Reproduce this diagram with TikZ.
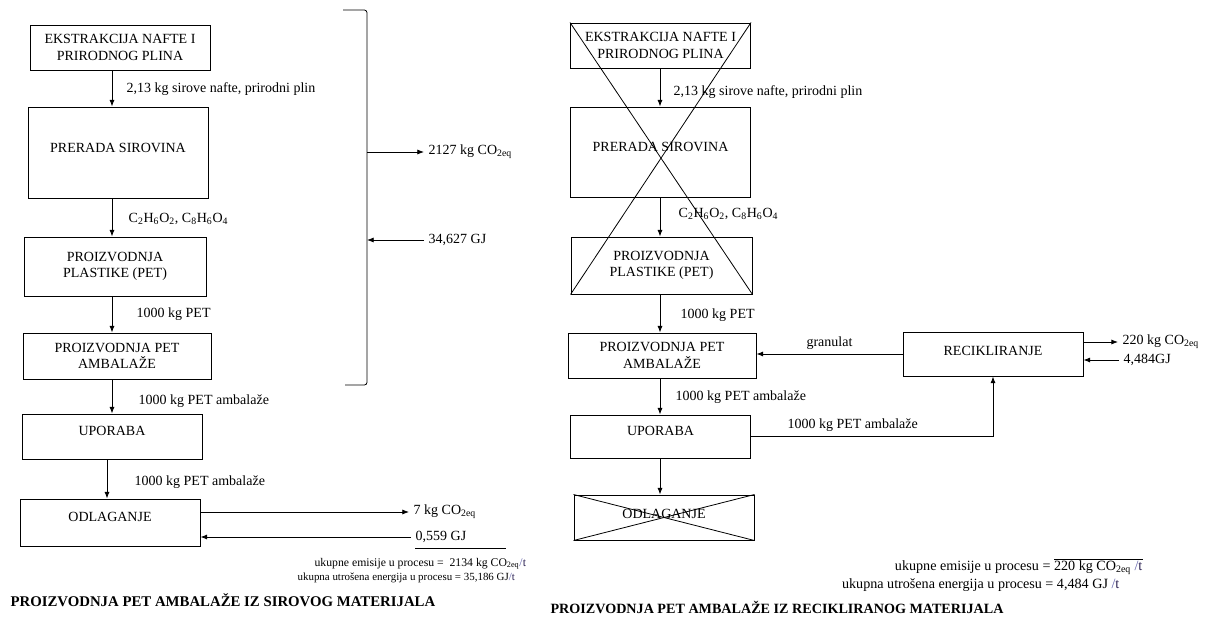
\documentclass[tikz,border=0pt]{standalone}
\usepackage{fontspec}
\setmainfont{Liberation Serif}
\usepackage{xcolor}
\usetikzlibrary{arrows.meta}
\definecolor{slashcol}{RGB}{95,95,170}
\definecolor{tcol}{RGB}{40,30,80}
\newcommand{\coeq}{CO\textsubscript{2eq}}
\newcommand{\pert}{{\color{slashcol}/}{\color{tcol}t}}
\newcommand{\chemlab}{C\textsubscript{2}H\textsubscript{6}O\textsubscript{2}, C\textsubscript{8}H\textsubscript{6}O\textsubscript{4}}

\begin{document}
\begin{tikzpicture}[x=0.75pt,y=-0.75pt,
    lab/.style={anchor=west,font=\fontsize{10.5}{12.5}\selectfont},
    sumtxt/.style={anchor=west,inner sep=1pt},
    titletxt/.style={anchor=west,inner sep=1pt,font=\fontsize{10.7}{12.5}\selectfont\bfseries}]
\useasboundingbox (0,0) rectangle (1209,621);
\coordinate (colL) at (112,0);
\coordinate (colLb) at (107,0);
\coordinate (colR) at (660,0);
\coordinate (brace) at (367,0);
\begin{scope}[every node/.style={draw,line width=0.75pt,align=center,
    font=\fontsize{10.5}{12.5}\selectfont,minimum width=135pt,minimum height=33.75pt,inner sep=2pt}]
% \begin{scope}[every node/.style={draw,align=center}]
    \node (ekstrL) at (120,47.5) {EKSTRAKCIJA NAFTE I\\PRIRODNOG PLINA};
    \node[minimum height=68.25pt,text depth=7pt] (preradaL) at (118,152.5) {PRERADA SIROVINA};
    \node[minimum width=136.5pt,minimum height=44.25pt] (plastL) at (115,266.5) {PROIZVODNJA\\PLASTIKE (PET)};
    \node[minimum width=141pt,minimum height=34.5pt] (ambL) at (117,356) {PROIZVODNJA PET\\AMBALAŽE};
    \node[text depth=8pt] (uporL) at (112,436.5) {UPORABA};
    \node[minimum height=35.25pt,text depth=8pt] (odlL) at (110,522.5) {ODLAGANJE};
    \node (ekstrR) at (660.5,45.5) {EKSTRAKCIJA NAFTE I\\PRIRODNOG PLINA};
    \node[minimum height=67.5pt,text depth=7pt] (preradaR) at (660.5,152) {PRERADA SIROVINA};
    \node[minimum width=135.75pt,minimum height=42.75pt] (plastR) at (661.5,265.5) {PROIZVODNJA\\PLASTIKE (PET)};
    \node[minimum width=141pt] (ambR) at (662,355.5) {PROIZVODNJA PET\\AMBALAŽE};
    \node[minimum height=32.25pt,text depth=8pt] (uporR) at (660.5,436.5) {UPORABA};
    \node[text depth=6pt] (odlR) at (664,517.5) {ODLAGANJE};
    \node[minimum height=33pt,text depth=5pt] (recik) at (993,354) {RECIKLIRANJE};
\end{scope}
\begin{scope}
    \node[lab] (qL1) at (122,89) {2,13 kg sirove nafte, prirodni plin};
    \node[lab] (qL2) at (124,219) {\chemlab};
    \node[lab] (qL3) at (132,314) {1000 kg PET};
    \node[lab] (qL4) at (134,401) {1000 kg PET ambalaže};
    \node[lab] (qL5) at (130,482) {1000 kg PET ambalaže};
    \node[lab] (co2L) at (424,152) {2127 kg \coeq};
    \node[lab] (gjL) at (424,240) {34,627 GJ};
    \node[lab] (co2odl) at (409,512) {7 kg \coeq};
    \node[lab] (gjodl) at (411,537) {0,559 GJ};
    \node[sumtxt,font=\fontsize{8.8}{10}\selectfont] (sumL1) at (313,564) {ukupne emisije u procesu = \ 2134 kg \coeq\pert};
    \node[sumtxt,font=\fontsize{8.2}{10}\selectfont] (sumL2) at (296,578) {ukupna utrošena energija u procesu = 35,186 GJ\pert};
    \node[titletxt,font=\fontsize{11.1}{13}\selectfont\bfseries] (titleL) at (9,600) {PROIZVODNJA PET AMBALAŽE IZ SIROVOG MATERIJALA};
    \node[lab] (qR1) at (669,92) {2,13 kg sirove nafte, prirodni plin};
    \node[lab] (qR2) at (674,214) {\chemlab};
    \node[lab] (qR3) at (676,315) {1000 kg PET};
    \node[lab] (qR4) at (671,397) {1000 kg PET ambalaže};
    \node[lab] (co2R) at (1118,342) {220 kg \coeq};
    \node[lab] (gjR) at (1119,360) {4,484GJ};
    \node[sumtxt,anchor=east,font=\fontsize{10.6}{12}\selectfont] (sumR1) at (1144,568) {ukupne emisije u procesu = 220 kg \coeq\ \pert};
    \node[sumtxt,anchor=east,font=\fontsize{10.6}{12}\selectfont] (sumR2) at (1121,585) {ukupna utrošena energija u procesu = 4,484 GJ \pert};
    \node[titletxt,font=\fontsize{10.6}{12.5}\selectfont\bfseries] (titleR) at (549,607) {PROIZVODNJA PET AMBALAŽE IZ RECIKLIRANOG MATERIJALA};
\end{scope}
% bracket round the first four steps
\draw[line width=0.6pt,rounded corners=2pt] (343,10) -- (brace |- 0,10) -- (brace |- 0,385) -- (345,385);
\draw[line width=0.6pt] ([xshift=3pt,yshift=-1pt]gjodl.south west) -- ++(91,0);
\draw[line width=0.6pt] ([xshift=-1pt]sumR1.north east) -- ++(-89,0);
% crossed out steps
\draw[line width=0.6pt] (ekstrR.north west) -- (plastR.south east);
\draw[line width=0.6pt] (ekstrR.north east) -- (plastR.south west);
\draw[line width=0.6pt] (odlR.north west) -- (odlR.south east);
\draw[line width=0.6pt] (odlR.north east) -- (odlR.south west);
\begin{scope}[>={Latex[length=5pt,width=3.8pt]},
              every edge/.style={draw=black,line width=0.6pt}]
    \path [->] (ekstrL.south -| colL) edge (preradaL.north -| colL);
    \path [->] (preradaL.south -| colL) edge (plastL.north -| colL);
    \path [->] (plastL.south -| colL) edge (ambL.north -| colL);
    \path [->] (ambL.south -| colL) edge (uporL.north -| colL);
    \path [->] (uporL.south -| colLb) edge (odlL.north -| colLb);
    \path [->] (brace |- co2L) edge (co2L.west);
    \path [->] (gjL.west) edge (brace |- gjL);
    \path [->] (odlL.east |- co2odl) edge (co2odl.west);
    \path [->] (gjodl.west) edge (odlL.east |- gjodl);
    \path [->] (ekstrR.south -| colR) edge (preradaR.north -| colR);
    \path [->] (preradaR.south -| colR) edge (plastR.north -| colR);
    \path [->] (plastR.south -| colR) edge (ambR.north -| colR);
    \path [->] (ambR.south -| colR) edge (uporR.north -| colR);
    \path [->] (uporR.south -| colR) edge (odlR.north -| colR);
    \path [->] (recik.west) edge node[above,font=\fontsize{10.5}{12.5}\selectfont] (gran) {granulat} (recik.west -| ambR.east);
    \draw [->,line width=0.6pt] (uporR.east) -| node[pos=0.21,above,font=\fontsize{10.5}{12.5}\selectfont] (qR5) {1000 kg PET ambalaže} (recik.south);
    \path [->] (recik.east |- co2R) edge (co2R.west);
    \path [->] (gjR.west) edge (recik.east |- gjR);
\end{scope}
\end{tikzpicture}
\end{document}
